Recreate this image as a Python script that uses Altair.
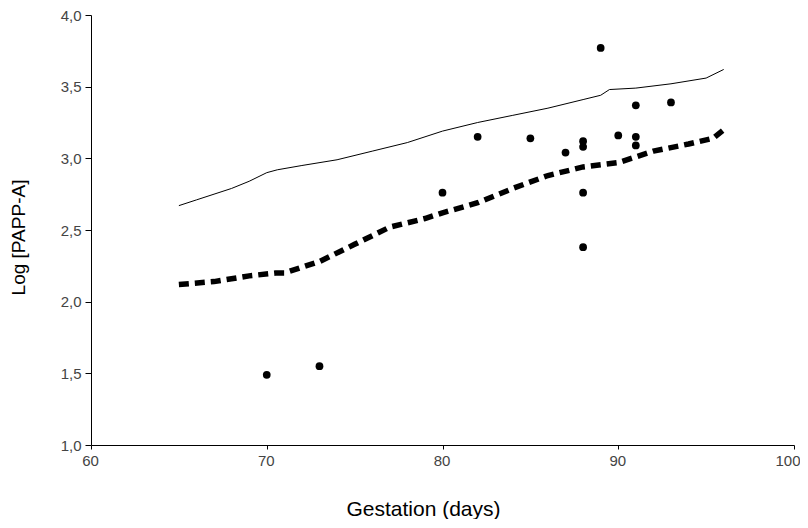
import altair as alt
import pandas as pd

# Observed points
obs_days = [70, 73, 80, 82, 85, 87, 88, 88, 88, 88, 89, 90, 91, 91, 91, 93]
obs_log = [1.49, 1.55, 2.76, 3.15, 3.14, 3.04, 3.12, 3.08, 2.76, 2.38, 3.77, 3.16, 3.37, 3.15, 3.09, 3.39]

# Upper (thin solid) curve
upper_days = [65, 66, 67, 68, 69, 70, 70.6, 72, 74, 76, 78, 80, 82, 84, 86, 88, 89, 89.5, 91, 93, 95, 96]
upper_log = [2.67, 2.71, 2.75, 2.79, 2.84, 2.90, 2.92, 2.95, 2.99, 3.05, 3.11, 3.19, 3.25, 3.30, 3.35, 3.41, 3.44, 3.48, 3.49, 3.52, 3.56, 3.62]

# Lower (thick dashed) curve
lower_days = [65, 67, 69, 70.5, 71, 73, 75, 77, 79, 80, 82, 84, 86, 88, 90, 92, 94, 95.4, 96]
lower_log = [2.12, 2.14, 2.18, 2.20, 2.20, 2.28, 2.40, 2.52, 2.58, 2.62, 2.69, 2.79, 2.88, 2.94, 2.97, 3.05, 3.10, 3.14, 3.20]

x_ticks = [60, 70, 80, 90, 100]
y_ticks = [1.0, 1.5, 2.0, 2.5, 3.0, 3.5, 4.0]

pts = pd.DataFrame({"days": obs_days, "log": obs_log})
up = pd.DataFrame({"days": upper_days, "log": upper_log})
lo = pd.DataFrame({"days": lower_days, "log": lower_log})

FONT = "Liberation Sans"

x_enc = alt.X("days:Q", scale=alt.Scale(domain=[60, 100], nice=False, zero=False),
              axis=alt.Axis(values=x_ticks, title="Gestation (days)", grid=False,
                            tickSize=4, labelPadding=4, labelFlush=False,
                            labelAlign=alt.condition("datum.value == 100", alt.value("right"), alt.value("center")),
                            labelOffset=alt.condition("datum.value == 100", alt.value(6), alt.value(-1)),
                            labelFontSize=15, titleFontSize=21, labelFont=FONT, titleFont=FONT,
                            labelColor="#444", titleColor="black", titleFontWeight="normal",
                            domainColor="black", tickColor="black",
                            titleX=332, titleY=64, titleBaseline="middle"))
y_enc = alt.Y("log:Q", scale=alt.Scale(domain=[1.0, 4.0], nice=False, zero=False),
              axis=alt.Axis(values=y_ticks, title="Log [PAPP-A]", grid=False,
                            tickSize=6, labelPadding=4,
                            labelExpr="replace(format(datum.value, '.1f'), '.', ',')",
                            labelFontSize=15, titleFontSize=19, labelFont=FONT, titleFont=FONT,
                            labelColor="#444", titleColor="black", titleFontWeight="normal",
                            domainColor="black", tickColor="black",
                            titleX=-73, titleY=222, titleBaseline="middle", titleAngle=270))

upper = alt.Chart(up).mark_line(color="black", strokeWidth=1).encode(x=x_enc, y=y_enc)
lower = alt.Chart(lo).mark_line(color="black", strokeWidth=5.5, strokeDash=[10, 6]).encode(x=x_enc, y=y_enc)
points = alt.Chart(pts).mark_point(filled=True, shape="circle", size=60, color="black", opacity=1).encode(x=x_enc, y=y_enc)

chart = (upper + lower + points).properties(
    width=703, height=430,
    autosize=alt.AutoSizeParams(type="none"),
    padding={"left": 83, "top": 7, "right": 6, "bottom": 74},
).configure_view(stroke=None)

chart.save("out.html", embed_options={"renderer": "svg", "actions": False})
